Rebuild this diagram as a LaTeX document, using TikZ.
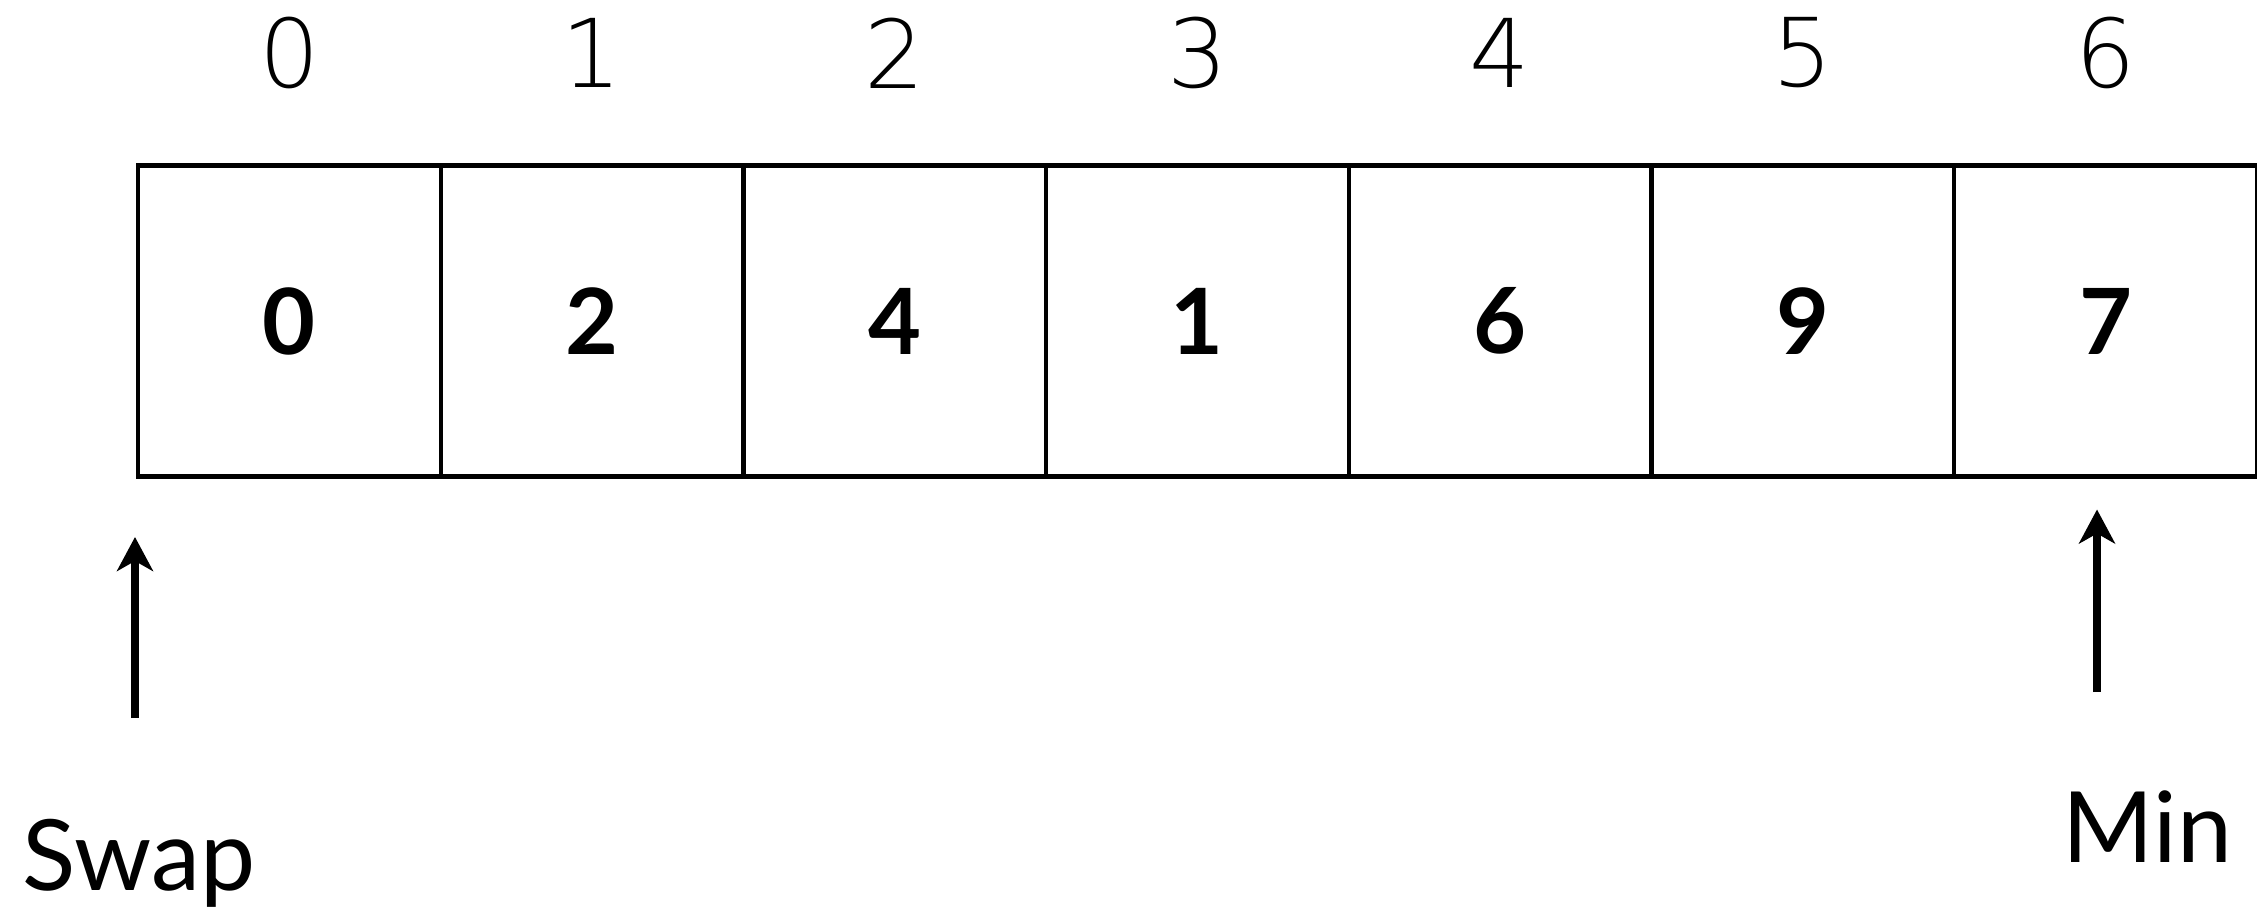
\documentclass[tikz,border=0pt]{standalone}
\usepackage{fontspec}
\setmainfont{Lato}
\newfontfamily\idxfont{DejaVu Sans ExtraLight}
\usetikzlibrary{arrows.meta,positioning}

\begin{document}
\begin{tikzpicture}[
    cell/.style={draw, line width=1.2pt, minimum width=3.027cm, minimum height=3.11cm, inner sep=0pt, font=\fontsize{26}{30}\selectfont\bfseries},
    idx/.style={font=\idxfont\fontsize{27}{30}\selectfont},
    ptr/.style={-{Stealth[length=3.4mm, width=3.6mm, inset=1mm]}, line width=2.2pt},
    ptrlabel/.style={font=\fontsize{28}{32}\selectfont, anchor=base west, inner sep=0pt}
]
\useasboundingbox (0,0) rectangle (22.57,9.11);
% array cells and their indices
\foreach \val [count=\i from 0] in {0,2,4,1,6,9,7} {
  \node[cell] (cell\i) at ({1.38+3.027*(\i+0.5)},5.9) {\val};
  \node[idx] (idx\i) at ({1.38+3.027*(\i+0.5)},8.58) {\i};
}
% pointers
\coordinate (swaptail) at (1.35,1.93);
\coordinate (swaptip) at (1.35,3.74);
\draw[ptr] (swaptail) -- (swaptip);
\node[ptrlabel] (swap) at (0.22,0.21) {Swap};
\coordinate (mintail) at (20.97,2.19);
\coordinate (mintip) at (20.97,4.015);
\draw[ptr] (mintail) -- (mintip);
\node[ptrlabel] (min) at (20.62,0.49) {Min};
\end{tikzpicture}
\end{document}
